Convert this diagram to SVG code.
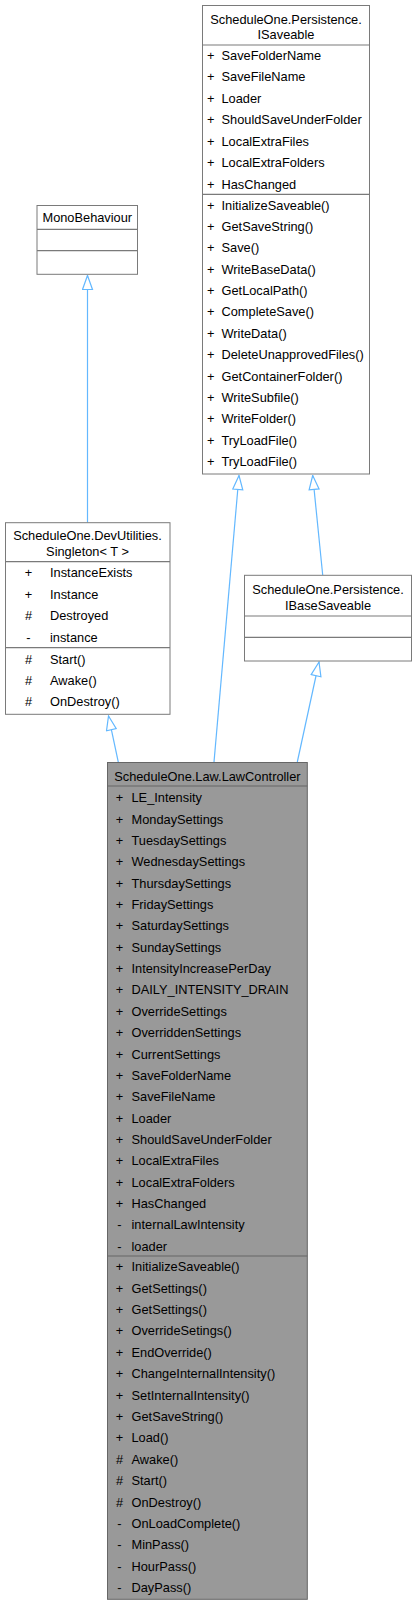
<svg xmlns="http://www.w3.org/2000/svg" width="416" height="1605" viewBox="0 0 416 1605">
<defs>
<style>
text{font-family:"Liberation Sans",Arial,sans-serif;font-size:12.8px;fill:#000}
.c{text-anchor:middle}
.box{fill:#fff;stroke:#7a7a7a;stroke-width:1}
.sel{fill:#999999;stroke:#666666;stroke-width:1}
.div{stroke:#7a7a7a;stroke-width:1.2}
.divd{stroke:#666666;stroke-width:1.2}
.edge{fill:none;stroke:#63b8ff;stroke-width:1.2}
</style>
<marker id="inh" viewBox="0 0 16 12" refX="15" refY="6" markerWidth="16" markerHeight="12" orient="auto" markerUnits="userSpaceOnUse">
<path d="M15,6 L1,1 L1,11 Z" fill="#fff" stroke="#63b8ff" stroke-width="1.2"/>
</marker>
</defs>
<rect width="416" height="1605" fill="#fff"/>

<g id="connectors">
<path class="edge" d="M87.5,522.5 L87.5,275.5" marker-end="url(#inh)"/>
<path class="edge" d="M118.3,762 L108.5,716" marker-end="url(#inh)"/>
<path class="edge" d="M214,762 L239,475.5" marker-end="url(#inh)"/>
<path class="edge" d="M297.3,762 L319,662" marker-end="url(#inh)"/>
<path class="edge" d="M322.7,575 L312.7,475.5" marker-end="url(#inh)"/>
</g>

<g id="ISaveable">
<rect class="box" x="202.5" y="5.5" width="167" height="468.5"/>
<line class="div" x1="202.5" y1="45" x2="369.5" y2="45"/>
<line class="div" x1="202.5" y1="194.3" x2="369.5" y2="194.3"/>
<text class="c" x="286" y="24">ScheduleOne.Persistence.</text>
<text class="c" x="286" y="38.5">ISaveable</text>
<g>
<text x="207" y="59.5">+</text><text x="221.5" y="59.5">SaveFolderName</text>
<text x="207" y="81">+</text><text x="221.5" y="81">SaveFileName</text>
<text x="207" y="102.5">+</text><text x="221.5" y="102.5">Loader</text>
<text x="207" y="124">+</text><text x="221.5" y="124">ShouldSaveUnderFolder</text>
<text x="207" y="145.5">+</text><text x="221.5" y="145.5">LocalExtraFiles</text>
<text x="207" y="167">+</text><text x="221.5" y="167">LocalExtraFolders</text>
<text x="207" y="188.5">+</text><text x="221.5" y="188.5">HasChanged</text>
</g>
<g>
<text x="207" y="209.5">+</text><text x="221.5" y="209.5">InitializeSaveable()</text>
<text x="207" y="230.9">+</text><text x="221.5" y="230.9">GetSaveString()</text>
<text x="207" y="252.3">+</text><text x="221.5" y="252.3">Save()</text>
<text x="207" y="273.7">+</text><text x="221.5" y="273.7">WriteBaseData()</text>
<text x="207" y="295.1">+</text><text x="221.5" y="295.1">GetLocalPath()</text>
<text x="207" y="316.4">+</text><text x="221.5" y="316.4">CompleteSave()</text>
<text x="207" y="337.8">+</text><text x="221.5" y="337.8">WriteData()</text>
<text x="207" y="359.2">+</text><text x="221.5" y="359.2">DeleteUnapprovedFiles()</text>
<text x="207" y="380.6">+</text><text x="221.5" y="380.6">GetContainerFolder()</text>
<text x="207" y="402">+</text><text x="221.5" y="402">WriteSubfile()</text>
<text x="207" y="423.4">+</text><text x="221.5" y="423.4">WriteFolder()</text>
<text x="207" y="444.8">+</text><text x="221.5" y="444.8">TryLoadFile()</text>
<text x="207" y="466.2">+</text><text x="221.5" y="466.2">TryLoadFile()</text>
</g>
</g>

<g id="MonoBehaviour">
<rect class="box" x="37" y="205.5" width="100.5" height="68.8"/>
<line class="div" x1="37" y1="229.3" x2="137.5" y2="229.3"/>
<line class="div" x1="37" y1="250.7" x2="137.5" y2="250.7"/>
<text class="c" x="87.3" y="221.8">MonoBehaviour</text>
</g>

<g id="Singleton">
<rect class="box" x="5.5" y="522.7" width="164.5" height="191.6"/>
<line class="div" x1="5.5" y1="561.7" x2="170" y2="561.7"/>
<line class="div" x1="5.5" y1="647.7" x2="170" y2="647.7"/>
<text class="c" x="87.5" y="539.5">ScheduleOne.DevUtilities.</text>
<text class="c" x="87.5" y="555.5">Singleton&lt; T &gt;</text>
<text class="c" x="28.5" y="577.2">+</text><text x="50" y="577.2">InstanceExists</text>
<text class="c" x="28.5" y="598.5">+</text><text x="50" y="598.5">Instance</text>
<text class="c" x="28.5" y="620.2">#</text><text x="50" y="620.2">Destroyed</text>
<text class="c" x="28.5" y="641.5">-</text><text x="50" y="641.5">instance</text>
<text class="c" x="28.5" y="663.5">#</text><text x="50" y="663.5">Start()</text>
<text class="c" x="28.5" y="684.5">#</text><text x="50" y="684.5">Awake()</text>
<text class="c" x="28.5" y="706.2">#</text><text x="50" y="706.2">OnDestroy()</text>
</g>

<g id="IBaseSaveable">
<rect class="box" x="244.5" y="575.3" width="167" height="85.7"/>
<line class="div" x1="244.5" y1="616" x2="411.5" y2="616"/>
<line class="div" x1="244.5" y1="637.3" x2="411.5" y2="637.3"/>
<text class="c" x="328" y="593.8">ScheduleOne.Persistence.</text>
<text class="c" x="328" y="609.5">IBaseSaveable</text>
</g>

<g id="LawController">
<rect class="sel" x="107.5" y="762.5" width="199.8" height="836.8"/>
<line class="divd" x1="107.5" y1="786" x2="307.3" y2="786"/>
<line class="divd" x1="107.5" y1="1256" x2="307.3" y2="1256"/>
<text class="c" x="207.4" y="780.5">ScheduleOne.Law.LawController</text>
<g>
<text class="c" x="119.5" y="802.2">+</text><text x="131.5" y="802.2">LE_Intensity</text>
<text class="c" x="119.5" y="823.6">+</text><text x="131.5" y="823.6">MondaySettings</text>
<text class="c" x="119.5" y="844.9">+</text><text x="131.5" y="844.9">TuesdaySettings</text>
<text class="c" x="119.5" y="866.3">+</text><text x="131.5" y="866.3">WednesdaySettings</text>
<text class="c" x="119.5" y="887.6">+</text><text x="131.5" y="887.6">ThursdaySettings</text>
<text class="c" x="119.5" y="909">+</text><text x="131.5" y="909">FridaySettings</text>
<text class="c" x="119.5" y="930.4">+</text><text x="131.5" y="930.4">SaturdaySettings</text>
<text class="c" x="119.5" y="951.7">+</text><text x="131.5" y="951.7">SundaySettings</text>
<text class="c" x="119.5" y="973.1">+</text><text x="131.5" y="973.1">IntensityIncreasePerDay</text>
<text class="c" x="119.5" y="994.4">+</text><text x="131.5" y="994.4">DAILY_INTENSITY_DRAIN</text>
<text class="c" x="119.5" y="1015.8">+</text><text x="131.5" y="1015.8">OverrideSettings</text>
<text class="c" x="119.5" y="1037.2">+</text><text x="131.5" y="1037.2">OverriddenSettings</text>
<text class="c" x="119.5" y="1058.5">+</text><text x="131.5" y="1058.5">CurrentSettings</text>
<text class="c" x="119.5" y="1079.9">+</text><text x="131.5" y="1079.9">SaveFolderName</text>
<text class="c" x="119.5" y="1101.2">+</text><text x="131.5" y="1101.2">SaveFileName</text>
<text class="c" x="119.5" y="1122.6">+</text><text x="131.5" y="1122.6">Loader</text>
<text class="c" x="119.5" y="1144">+</text><text x="131.5" y="1144">ShouldSaveUnderFolder</text>
<text class="c" x="119.5" y="1165.3">+</text><text x="131.5" y="1165.3">LocalExtraFiles</text>
<text class="c" x="119.5" y="1186.7">+</text><text x="131.5" y="1186.7">LocalExtraFolders</text>
<text class="c" x="119.5" y="1208">+</text><text x="131.5" y="1208">HasChanged</text>
<text class="c" x="119.5" y="1229.4">-</text><text x="131.5" y="1229.4">internalLawIntensity</text>
<text class="c" x="119.5" y="1250.8">-</text><text x="131.5" y="1250.8">loader</text>
</g>
<g>
<text class="c" x="119.5" y="1271.2">+</text><text x="131.5" y="1271.2">InitializeSaveable()</text>
<text class="c" x="119.5" y="1292.6">+</text><text x="131.5" y="1292.6">GetSettings()</text>
<text class="c" x="119.5" y="1314">+</text><text x="131.5" y="1314">GetSettings()</text>
<text class="c" x="119.5" y="1335.4">+</text><text x="131.5" y="1335.4">OverrideSetings()</text>
<text class="c" x="119.5" y="1356.8">+</text><text x="131.5" y="1356.8">EndOverride()</text>
<text class="c" x="119.5" y="1378.2">+</text><text x="131.5" y="1378.2">ChangeInternalIntensity()</text>
<text class="c" x="119.5" y="1399.6">+</text><text x="131.5" y="1399.6">SetInternalIntensity()</text>
<text class="c" x="119.5" y="1421">+</text><text x="131.5" y="1421">GetSaveString()</text>
<text class="c" x="119.5" y="1442.4">+</text><text x="131.5" y="1442.4">Load()</text>
<text class="c" x="119.5" y="1463.8">#</text><text x="131.5" y="1463.8">Awake()</text>
<text class="c" x="119.5" y="1485.2">#</text><text x="131.5" y="1485.2">Start()</text>
<text class="c" x="119.5" y="1506.6">#</text><text x="131.5" y="1506.6">OnDestroy()</text>
<text class="c" x="119.5" y="1528">-</text><text x="131.5" y="1528">OnLoadComplete()</text>
<text class="c" x="119.5" y="1549.4">-</text><text x="131.5" y="1549.4">MinPass()</text>
<text class="c" x="119.5" y="1570.8">-</text><text x="131.5" y="1570.8">HourPass()</text>
<text class="c" x="119.5" y="1592.2">-</text><text x="131.5" y="1592.2">DayPass()</text>
</g>
</g>
</svg>
